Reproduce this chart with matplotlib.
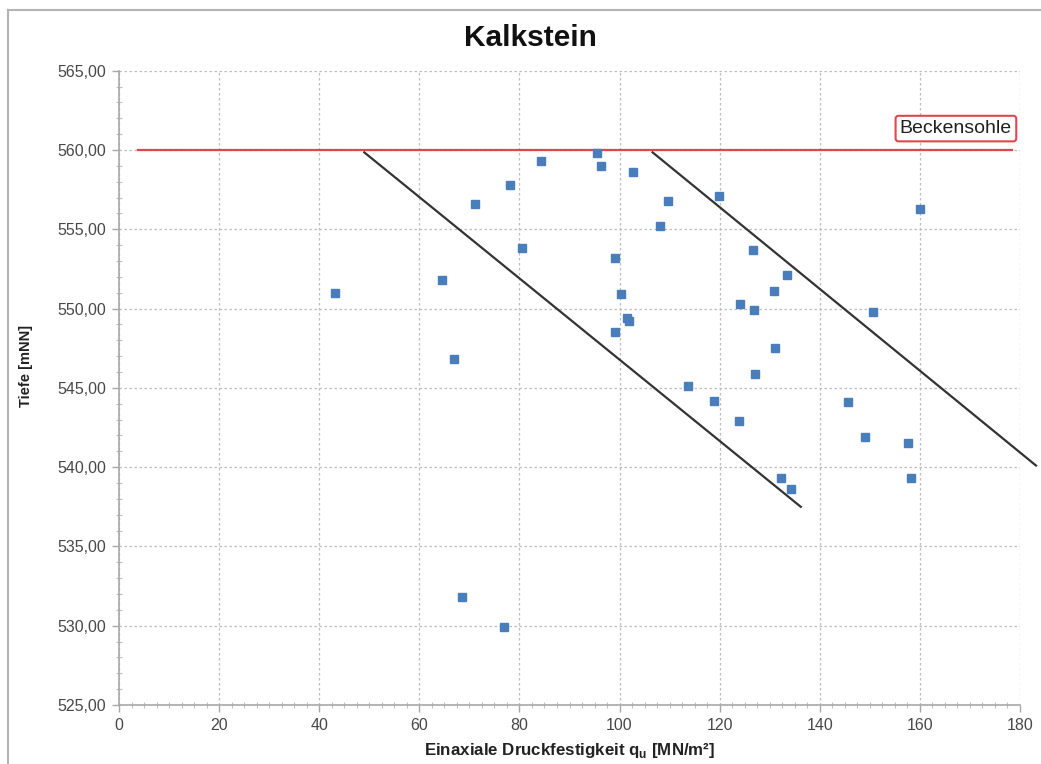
import matplotlib
matplotlib.use("Agg")
import matplotlib.pyplot as plt
from matplotlib.ticker import MultipleLocator, FuncFormatter
from matplotlib.lines import Line2D

plt.rcParams['font.family'] = ['Liberation Sans', 'DejaVu Sans']

# Data: uniaxial compressive strength (MN/m²) vs. depth (mNN)
qu = [43.2, 64.6, 71.2, 78.2, 80.5, 67.0, 84.3, 95.5, 96.3, 102.7,
      109.7, 119.8, 108.1, 160.1, 99.1, 126.7, 133.4, 130.9, 100.3, 124.1,
      126.9, 150.6, 101.4, 101.8, 99.1, 131.0, 127.1, 113.7, 118.9, 123.8,
      145.7, 149.1, 157.7, 132.3, 134.3, 158.3, 68.6, 77.0]
tiefe = [551.0, 551.8, 556.6, 557.8, 553.8, 546.8, 559.3, 559.8, 559.0, 558.6,
         556.8, 557.1, 555.2, 556.3, 553.2, 553.7, 552.1, 551.1, 550.9, 550.3,
         549.9, 549.8, 549.4, 549.2, 548.5, 547.5, 545.9, 545.1, 544.2, 542.9,
         544.1, 541.9, 541.5, 539.3, 538.6, 539.3, 531.8, 529.9]

# Reference lines
beckensohle_x = [3.7, 178.5]
beckensohle_y = [560.0, 560.0]
line1_x = [49.0, 136.2]
line1_y = [559.85, 537.5]
line2_x = [106.6, 183.2]
line2_y = [559.85, 540.1]

x_ticks = [0, 20, 40, 60, 80, 100, 120, 140, 160, 180]
y_ticks = [525, 530, 535, 540, 545, 550, 555, 560, 565]

W, H = 1041, 764
fig = plt.figure(figsize=(W / 100, H / 100), dpi=100)
fig.patch.set_facecolor('white')

# outer frame (top and left visible)
fig.add_artist(Line2D([7.5 / W, 1.0], [1 - 10 / H, 1 - 10 / H], transform=fig.transFigure,
                      color='#b4b4b4', lw=1.5))
fig.add_artist(Line2D([7.5 / W, 7.5 / W], [1 - 10 / H, 0.0], transform=fig.transFigure,
                      color='#b4b4b4', lw=1.5))

ax = fig.add_axes([119 / W, 1 - 705 / H, (1020 - 119) / W, (705 - 70.7) / H])
ax.set_xlim(0, 180)
ax.set_ylim(525, 565)

ax.set_xticks(x_ticks)
ax.set_yticks(y_ticks)
ax.xaxis.set_minor_locator(MultipleLocator(2.5))
ax.yaxis.set_minor_locator(MultipleLocator(1))
ax.yaxis.set_major_formatter(FuncFormatter(lambda v, p: f"{v:.2f}".replace('.', ',')))

ax.grid(True, which='major', color='#bdbdbd', linestyle=(0, (2, 2)), linewidth=0.9)
ax.set_axisbelow(True)

for s in ['top', 'right']:
    ax.spines[s].set_visible(False)
for s in ['left', 'bottom']:
    ax.spines[s].set_color('#a8a8a8')
    ax.spines[s].set_linewidth(1.2)

ax.tick_params(axis='both', which='major', length=5, width=1, color='#a8a8a8',
               labelsize=11.5, labelcolor='#484848', direction='out', pad=4)
ax.tick_params(axis='both', which='minor', length=4, width=0.8, color='#c0c0c0',
               direction='inout')

ax.plot(beckensohle_x, beckensohle_y, color='#e0474c', lw=1.6, zorder=3)
ax.plot(line1_x, line1_y, color='#333333', lw=1.6, zorder=3)
ax.plot(line2_x, line2_y, color='#333333', lw=1.6, zorder=3, clip_on=False)

ax.plot(qu, tiefe, linestyle='none', marker='s', markersize=6,
        markerfacecolor='#4a7ebb', markeredgecolor='#4a7ebb', zorder=4)

ax.text(167.2, 561.35, 'Beckensohle', fontsize=14, color='#202020',
        ha='center', va='center',
        bbox=dict(boxstyle='round,pad=0.22,rounding_size=0.15', facecolor='white',
                  edgecolor='#e0474c', linewidth=1.5))

fig.text(530 / W, 1 - 38 / H, 'Kalkstein', fontsize=21.5, fontweight='bold',
         ha='center', va='center', color='#111111')

ax.set_xlabel('Einaxiale Druckfestigkeit q$_\\mathregular{u}$ [MN/m²]', fontsize=12.2,
              fontweight='bold', color='#222222', labelpad=6)
ax.set_ylabel('Tiefe [mNN]', fontsize=10.5, fontweight='bold', color='#222222')
ax.yaxis.set_label_coords(-(119 - 33) / (1020 - 119), (705 - 366) / (705 - 70.7))

fig.savefig('out.png', dpi=100)
